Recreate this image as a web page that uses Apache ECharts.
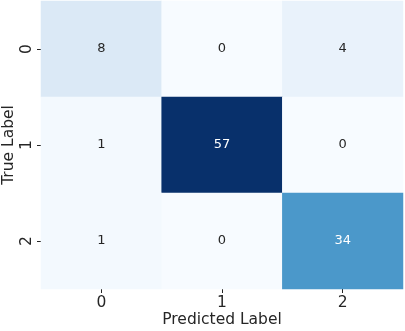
<!DOCTYPE html>
<html>
<head>
<meta charset="utf-8">
<script src="https://cdn.jsdelivr.net/npm/echarts@6/dist/echarts.min.js"></script>
<style>
  html, body { margin: 0; padding: 0; background: #fff; }
  #chart { width: 405px; height: 331px; }
</style>
</head>
<body>
<div id="chart"></div>
<script>
var predLabels = ['0', '1', '2'];
var trueLabels = ['0', '1', '2'];
// rows = true label, columns = predicted label
var row0 = [8, 0, 4];
var row1 = [1, 57, 0];
var row2 = [1, 0, 34];
var matrix = [row0, row1, row2];

var maxVal = 57;
var blues = ['#f7fbff', '#deebf7', '#c6dbef', '#9ecae1', '#6baed6', '#4292c6', '#2171b5', '#08519c', '#08306b'];

var cells = [];
matrix.forEach(function (row, y) {
    row.forEach(function (v, x) {
        cells.push({
            value: [x, y, v],
            label: { color: v / maxVal > 0.5 ? '#ffffff' : '#262626' }
        });
    });
});

var chart = echarts.init(document.getElementById('chart'));
chart.setOption({
    animation: false,
    grid: { left: 41, right: 2, top: 1, bottom: 42, outerBoundsMode: 'none', containLabel: false },
    xAxis: {
        type: 'category',
        data: predLabels,
        name: 'Predicted Label',
        nameLocation: 'middle',
        nameGap: 23,
        nameMoveOverlap: false,
        nameTextStyle: { fontFamily: 'DejaVu Sans', fontSize: 15.5, color: '#262626' },
        axisLine: { show: false },
        axisTick: { show: true, alignWithLabel: true, length: 4, lineStyle: { color: '#262626' } },
        axisLabel: { fontFamily: 'DejaVu Sans', fontSize: 15.5, color: '#262626', margin: 6 },
        splitLine: { show: false }
    },
    yAxis: {
        type: 'category',
        data: trueLabels,
        inverse: true,
        name: 'True Label',
        nameLocation: 'middle',
        nameGap: 24,
        nameMoveOverlap: false,
        nameTextStyle: { fontFamily: 'DejaVu Sans', fontSize: 15.5, color: '#262626' },
        axisLine: { show: false },
        axisTick: { show: true, alignWithLabel: true, length: 4, lineStyle: { color: '#262626' } },
        axisLabel: { fontFamily: 'DejaVu Sans', fontSize: 15.5, color: '#262626', rotate: 90, margin: 6 },
        splitLine: { show: false }
    },
    visualMap: {
        show: false,
        min: 0,
        max: maxVal,
        dimension: 2,
        inRange: { color: blues }
    },
    series: [{
        type: 'heatmap',
        data: cells,
        itemStyle: { borderWidth: 0 },
        label: { show: true, fontFamily: 'DejaVu Sans', fontSize: 13 },
        emphasis: { disabled: true }
    }]
});
</script>
</body>
</html>
